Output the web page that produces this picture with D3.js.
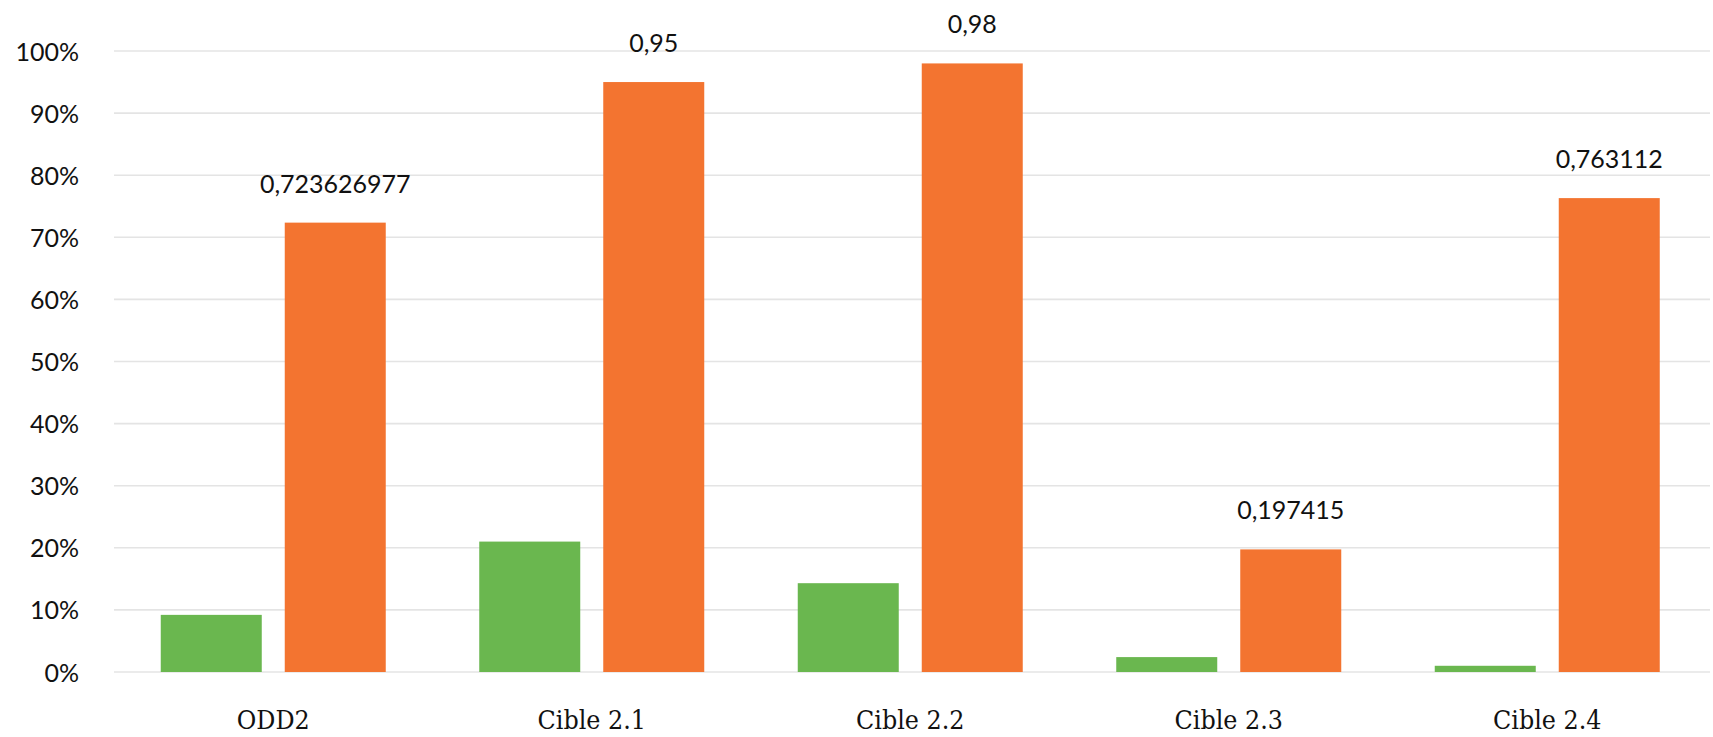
<!DOCTYPE html>
<html lang="fr">
<head>
<meta charset="UTF-8">
<title>ODD2 - cibles</title>
<script src="https://d3js.org/d3.v7.min.js"></script>
<style>
  html, body { margin: 0; padding: 0; background: #fff; }
  svg { display: block; }
  .ytick text { font-family: Lato, "Open Sans", sans-serif; font-size: 25px; fill: #111; }
  .xtick text { font-family: "DejaVu Serif", serif; font-stretch: condensed; font-size: 26.5px; fill: #111; }
  .value { font-family: Lato, "Open Sans", sans-serif; font-size: 25px; fill: #111; }
</style>
</head>
<body>
<div id="chart"></div>
<script>
// categories and the two series
const categories = ["ODD2", "Cible 2.1", "Cible 2.2", "Cible 2.3", "Cible 2.4"];
const seriesNames = ["vert", "orange"];
const greenValues = [0.092, 0.21, 0.143, 0.024, 0.010];
const orangeValues = [0.723626977, 0.95, 0.98, 0.197415, 0.763112];
const orangeLabels = ["0,723626977", "0,95", "0,98", "0,197415", "0,763112"];
const yTicks = [0, 0.1, 0.2, 0.3, 0.4, 0.5, 0.6, 0.7, 0.8, 0.9, 1.0];

const colors = { vert: "#6ab74f", orange: "#f37430" };

const width = 1713, height = 737;

const svg = d3.select("#chart").append("svg")
    .attr("width", width)
    .attr("height", height);

const x0 = d3.scaleBand()
    .domain(categories)
    .range([114, 1706.5])
    .paddingInner(0)
    .paddingOuter(0);

const x1 = d3.scaleBand()
    .domain(seriesNames)
    .range([0, x0.bandwidth()])
    .paddingInner(0.1855)
    .paddingOuter(0.377);

const y = d3.scaleLinear()
    .domain([0, 1])
    .range([672, 51]);

// gridlines
svg.append("g")
    .selectAll("line")
    .data(yTicks)
    .enter().append("line")
    .attr("x1", 114)
    .attr("x2", 1710)
    .attr("y1", d => y(d))
    .attr("y2", d => y(d))
    .attr("stroke", "#e4e4e4")
    .attr("stroke-width", 1.6);

// y axis labels
const yAxis = d3.axisLeft(y)
    .tickValues(yTicks)
    .tickSize(0)
    .tickPadding(0)
    .tickFormat(d => Math.round(d * 100) + "%");

svg.append("g")
    .attr("transform", "translate(79,0)")
    .call(yAxis)
    .call(g => g.select(".domain").remove())
    .call(g => g.selectAll(".tick").attr("class", "tick ytick"))
    .call(g => g.selectAll(".tick text").attr("dy", "0.36em"));

// x axis labels
const xAxis = d3.axisBottom(x0)
    .tickSize(0)
    .tickPadding(0);

svg.append("g")
    .attr("transform", "translate(0,729)")
    .call(xAxis)
    .call(g => g.select(".domain").remove())
    .call(g => g.selectAll(".tick").attr("class", "tick xtick"))
    .call(g => g.selectAll(".tick text").attr("dy", 0).attr("y", 0));

// bars
const rows = categories.map((c, i) => ({
    category: c,
    values: [
        { key: "vert", value: greenValues[i] },
        { key: "orange", value: orangeValues[i], label: orangeLabels[i] }
    ]
}));

const groups = svg.append("g")
    .selectAll("g")
    .data(rows)
    .enter().append("g")
    .attr("transform", d => `translate(${x0(d.category)},0)`);

groups.selectAll("rect")
    .data(d => d.values)
    .enter().append("rect")
    .attr("x", d => x1(d.key))
    .attr("width", x1.bandwidth())
    .attr("y", d => y(d.value))
    .attr("height", d => y(0) - y(d.value))
    .attr("fill", d => colors[d.key]);

// value labels, only on the orange series
groups.selectAll("text.value")
    .data(d => d.values.filter(v => v.label))
    .enter().append("text")
    .attr("class", "value")
    .attr("x", d => x1(d.key) + x1.bandwidth() / 2)
    .attr("y", d => y(d.value) - 30)
    .attr("text-anchor", "middle")
    .text(d => d.label);
</script>
</body>
</html>
